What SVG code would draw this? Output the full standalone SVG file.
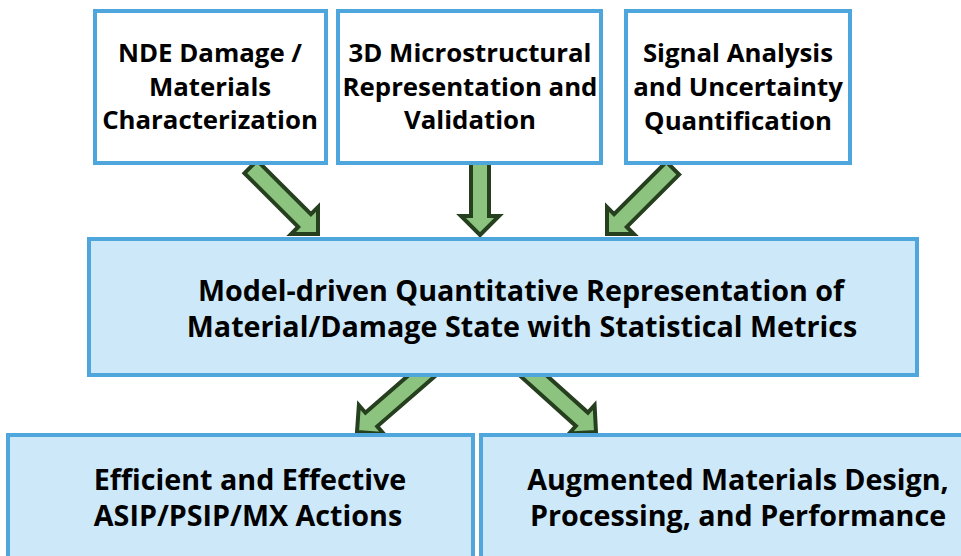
<svg xmlns="http://www.w3.org/2000/svg" width="961" height="556" viewBox="0 0 961 556">
<style>
.top{fill:#ffffff;stroke:#4ea6dc;stroke-width:4}
.blue{fill:#cde9f9;stroke:#4ea6dc;stroke-width:4}
.arr{fill:#8cc47f;stroke:#263f1f;stroke-width:4;stroke-linejoin:miter}
text{font-family:"Open Sans","Liberation Sans",sans-serif;font-weight:bold;fill:#000;text-anchor:middle}
.t1{font-size:25.8px}
.t2{font-size:28.7px}
</style>
<g id="connectors">
<polygon class="arr" transform="translate(318,234) rotate(45)" points="0,0 -19,-19 -19,-9 -95,-9 -95,9 -19,9 -19,19"/>
<polygon class="arr" transform="translate(480,235) rotate(90)" points="0,0 -19,-19 -19,-9 -72,-9 -72,9 -19,9 -19,19"/>
<polygon class="arr" transform="translate(607,234) rotate(135)" points="0,0 -19,-19 -19,-9 -93,-9 -93,9 -19,9 -19,19"/>
<polygon class="arr" transform="translate(357,432) rotate(139)" points="0,0 -19,-19 -19,-9 -95,-9 -95,9 -19,9 -19,19"/>
<polygon class="arr" transform="translate(596,432) rotate(42)" points="0,0 -19,-19 -19,-9 -95,-9 -95,9 -19,9 -19,19"/>
</g>
<g id="node-nde">
<rect class="top" x="95" y="11" width="231" height="152"/>
<text class="t1" x="210" y="62">NDE Damage /</text>
<text class="t1" x="210" y="96">Materials</text>
<text class="t1" x="210" y="129">Characterization</text>
</g>
<g id="node-3d">
<rect class="top" x="338" y="11" width="263" height="152"/>
<text class="t1" x="470" y="62">3D Microstructural</text>
<text class="t1" x="470" y="96">Representation and</text>
<text class="t1" x="470" y="129">Validation</text>
</g>
<g id="node-signal">
<rect class="top" x="626" y="11" width="224" height="152"/>
<text class="t1" x="738" y="62">Signal Analysis</text>
<text class="t1" x="738" y="96">and Uncertainty</text>
<text class="t1" x="738" y="130">Quantification</text>
</g>
<g id="node-model">
<rect class="blue" x="89" y="239" width="828" height="136"/>
<text class="t2" x="521" y="301">Model-driven Quantitative Representation of</text>
<text class="t2" x="522" y="337">Material/Damage State with Statistical Metrics</text>
</g>
<g id="node-efficient">
<rect class="blue" x="8" y="435" width="465" height="130"/>
<text class="t2" x="250" y="490">Efficient and Effective</text>
<text class="t2" x="248" y="526">ASIP/PSIP/MX Actions</text>
</g>
<g id="node-augmented">
<rect class="blue" x="481" y="435" width="490" height="130"/>
<text class="t2" x="738" y="490">Augmented Materials Design,</text>
<text class="t2" x="738" y="526">Processing, and Performance</text>
</g>
</svg>
